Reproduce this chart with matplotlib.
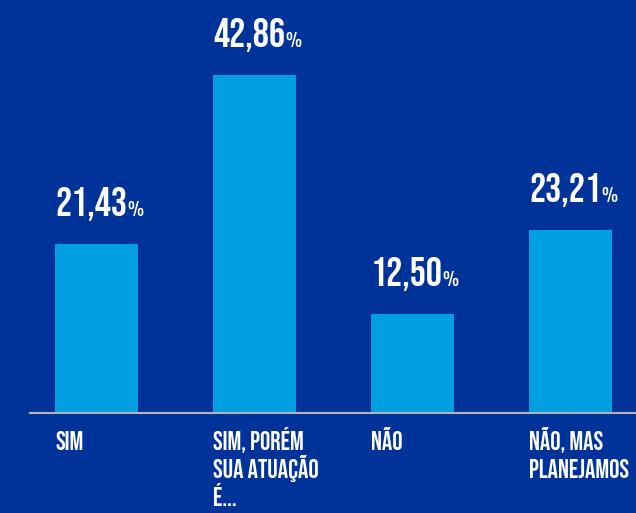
import matplotlib
matplotlib.use("Agg")
import matplotlib.pyplot as plt

# data
categories = ["SIM", "SIM, PORÉM\nSUA ATUAÇÃO\nÉ...", "NÃO", "NÃO, MAS\nPLANEJAMOS"]
values = [21.43, 42.86, 12.50, 23.21]

BG = "#003399"
BAR = "#009FE3"
FONT = ["Bebas Neue", "DejaVu Sans"]
PCT_FONT = ["Oswald", "DejaVu Sans"]
PX = 72 / 100  # points per pixel at dpi 100

fig = plt.figure(figsize=(6.36, 5.13), dpi=100, facecolor=BG)
ax = fig.add_axes([30 / 636, 100 / 513, 606 / 636, 413 / 513])
ax.set_facecolor(BG)

x = list(range(len(values)))
width = 0.525
ax.bar(x, values, width=width, color=BAR, zorder=2)

ax.set_xlim(-0.421, 3.415)
ax.set_ylim(0, 52.4)

# only the baseline is kept
for side in ["top", "right", "left"]:
    ax.spines[side].set_visible(False)
ax.spines["bottom"].set_color("#b4b4b4")
ax.spines["bottom"].set_linewidth(1.5)
ax.set_xticks([])
ax.set_yticks([])

renderer = fig.canvas.get_renderer()
for xi, v, cat in zip(x, values, categories):
    left = xi - width / 2
    # value label: number followed by a small percent sign
    num = f"{v:.2f}".replace(".", ",")
    t = ax.annotate(num, xy=(left, v), xytext=(0, 28 * PX), textcoords="offset points",
                    ha="left", va="baseline", color="white", fontsize=29,
                    family=FONT, annotation_clip=False)
    w = t.get_window_extent(renderer).width
    ax.annotate("%", xy=(left, v), xytext=(w * PX, 28 * PX),
                textcoords="offset points", ha="left", va="baseline",
                color="white", fontsize=13, family=PCT_FONT, annotation_clip=False)
    # category label, one text per line with fixed spacing
    for i, line in enumerate(cat.split("\n")):
        ax.annotate(line, xy=(left, 0), xytext=(0, -(37 + 28 * i) * PX),
                    textcoords="offset points", ha="left", va="baseline",
                    color="white", fontsize=18.5, family=FONT,
                    annotation_clip=False)

fig.savefig("out.png", dpi=100, facecolor=BG)
